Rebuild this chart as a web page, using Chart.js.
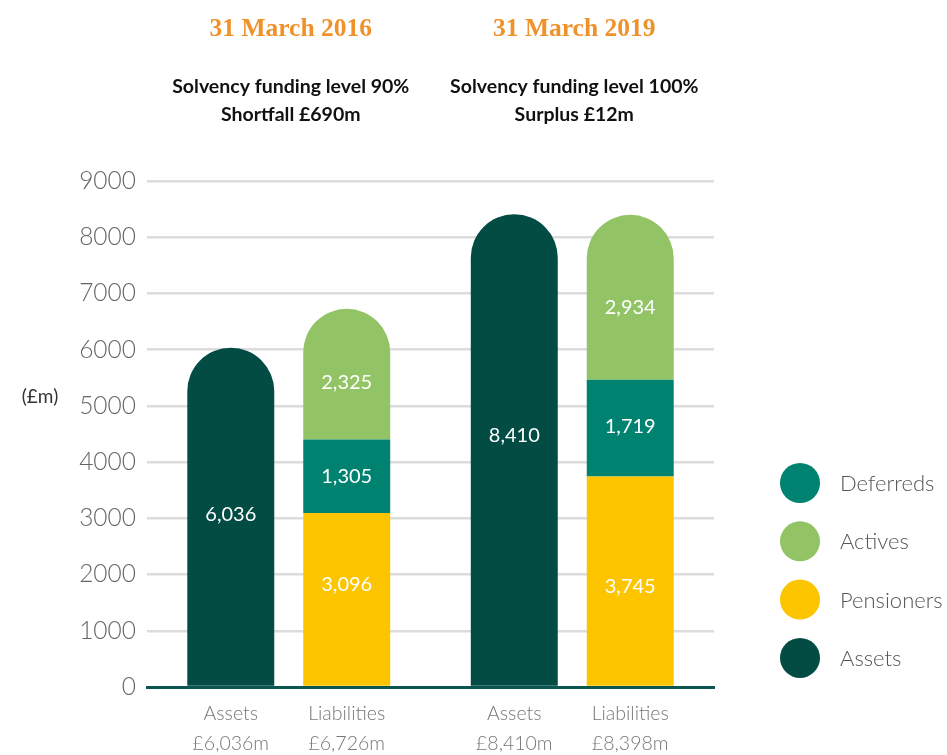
<!DOCTYPE html>
<html>
<head>
<meta charset="utf-8">
<script src="https://cdn.jsdelivr.net/npm/chart.js@4/dist/chart.umd.min.js"></script>
<style>
  html, body { margin: 0; padding: 0; background: #ffffff; }
  #wrap { position: relative; width: 947px; height: 755px; }
</style>
</head>
<body>
<div id="wrap"><canvas id="c"></canvas></div>
<script>
// ---- Data ----
const groups = ['31 March 2016', '31 March 2019'];
const groupSubtitles = [
  ['Solvency funding level 90%', 'Shortfall £690m'],
  ['Solvency funding level 100%', 'Surplus £12m']
];
const assets = [6036, 8410];
const pensioners = [3096, 3745];
const deferreds = [1305, 1719];
const actives = [2325, 2934];
const barNames = ['Assets', 'Liabilities', 'Assets', 'Liabilities'];
const barTotals = ['£6,036m', '£6,726m', '£8,410m', '£8,398m'];
const yTicks = [0, 1000, 2000, 3000, 4000, 5000, 6000, 7000, 8000, 9000];
const unitLabel = '(£m)';

// ---- Styles ----
const COLORS = {
  assets: '#034c43',
  pensioners: '#fcc500',
  deferreds: '#008270',
  actives: '#92c466'
};
const LIGHT = '"Lato", "Open Sans", sans-serif';
const topRound = { topLeft: 44, topRight: 44, bottomLeft: 0, bottomRight: 0 };

const extras = {
  id: 'extras',
  afterDatasetsDraw(chart, args, opts) {
    const ctx = chart.ctx;
    ctx.save();
    ctx.fillStyle = '#ffffff';
    ctx.font = '400 20px ' + LIGHT;
    ctx.textAlign = 'center';
    ctx.textBaseline = 'middle';
    chart.data.datasets.forEach((ds, di) => {
      const meta = chart.getDatasetMeta(di);
      const nudge = (opts.nudges && opts.nudges[di]) || [];
      meta.data.forEach((bar, i) => {
        const v = ds.data[i];
        const y = (bar.y + bar.base) / 2 + (nudge[i] || 0);
        ctx.fillText(v.toLocaleString('en-GB'), bar.x, y);
      });
    });
    ctx.restore();
  },
  afterDraw(chart, args, opts) {
    const ctx = chart.ctx;
    const xs = chart.scales.x;
    ctx.save();
    ctx.textAlign = 'center';
    ctx.textBaseline = 'middle';
    // group titles
    groups.forEach((g, i) => {
      const cx = xs.getPixelForValue(i) + 2;
      ctx.fillStyle = '#f0922b';
      ctx.font = 'bold 25.5px "Liberation Serif", serif';
      ctx.fillText(g, cx, 29);
      ctx.fillStyle = '#111111';
      ctx.font = 'bold 19.5px ' + LIGHT;
      ctx.fillText(groupSubtitles[i][0], cx, 87);
      ctx.fillText(groupSubtitles[i][1], cx, 115);
    });
    // bar labels under axis
    const assetMeta = chart.getDatasetMeta(0);
    const liabMeta = chart.getDatasetMeta(3);
    const barXs = [];
    groups.forEach((g, i) => {
      barXs.push(assetMeta.data[i].x);
      barXs.push(liabMeta.data[i].x);
    });
    ctx.fillStyle = '#777777';
    ctx.font = '300 19.5px ' + LIGHT;
    barXs.forEach((x, k) => {
      ctx.fillText(barNames[k], x, 714);
      ctx.fillText(barTotals[k], x, 744);
    });
    // unit label
    ctx.fillStyle = '#333333';
    ctx.font = '400 19px ' + LIGHT;
    ctx.fillText(unitLabel, 40, 397);
    // legend
    const order = [2, 3, 1, 0];
    ctx.textAlign = 'left';
    ctx.font = '300 22px ' + LIGHT;
    order.forEach((di, k) => {
      const ds = chart.data.datasets[di];
      const cy = 483 + k * 58.3;
      ctx.beginPath();
      ctx.arc(800, cy, 20, 0, Math.PI * 2);
      ctx.fillStyle = ds.backgroundColor;
      ctx.fill();
      ctx.fillStyle = '#555555';
      ctx.fillText(ds.label, 840, cy + 1);
    });
    ctx.restore();
  }
};

new Chart(document.getElementById('c'), {
  type: 'bar',
  data: {
    labels: groups,
    datasets: [
      { label: 'Assets', data: assets, backgroundColor: COLORS.assets, stack: 'assets', borderRadius: topRound, borderSkipped: false },
      { label: 'Pensioners', data: pensioners, backgroundColor: COLORS.pensioners, stack: 'liab', borderRadius: 0 },
      { label: 'Deferreds', data: deferreds, backgroundColor: COLORS.deferreds, stack: 'liab', borderRadius: 0 },
      { label: 'Actives', data: actives, backgroundColor: COLORS.actives, stack: 'liab', borderRadius: topRound, borderSkipped: false }
    ]
  },
  options: {
    responsive: true,
    maintainAspectRatio: false,
    animation: false,
    layout: { padding: { top: 181, right: 233, left: 0, bottom: 0 } },
    datasets: { bar: { categoryPercentage: 0.818, barPercentage: 0.75 } },
    plugins: {
      legend: { display: false },
      tooltip: { enabled: false },
      extras: { nudges: { 0: [-2, -14], 1: [-15, 5], 2: [0, -2], 3: [8, 10] } }
    },
    scales: {
      x: {
        stacked: true,
        z: 1,
        grid: { display: false, drawTicks: false },
        border: { display: true, color: '#0b5650', width: 3 },
        ticks: { display: false },
        afterFit(scale) { scale.height = 68; }
      },
      y: {
        stacked: true,
        min: 0,
        max: 9000,
        afterBuildTicks(scale) { scale.ticks = yTicks.map(v => ({ value: v })); },
        grid: { color: '#dcdcdc', lineWidth: 2.5, drawTicks: false },
        border: { display: false },
        ticks: {
          padding: 11,
          color: '#666666',
          font: { family: LIGHT, size: 24.5, weight: '300' },
          callback: v => String(v)
        },
        afterFit(scale) { scale.width = 147; }
      }
    }
  },
  plugins: [extras]
});
</script>
</body>
</html>
